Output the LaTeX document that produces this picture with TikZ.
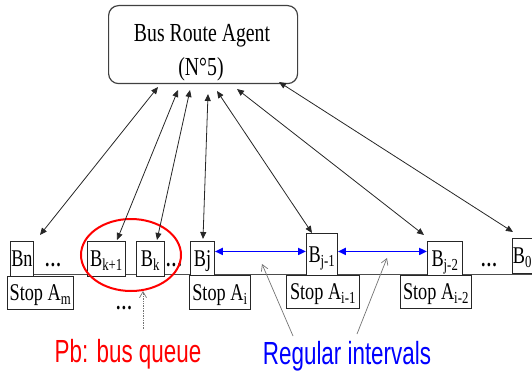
\documentclass[tikz,border=0pt]{standalone}
\usepackage{fontspec}
\newfontfamily\serifx[FakeStretch=0.76]{Liberation Serif}
\newfontfamily\sansx[FakeStretch=0.70]{Liberation Sans}
\usetikzlibrary{arrows.meta,calc}
\begin{document}
\begin{tikzpicture}[x=1pt,y=-1pt,
  bbox/.style={draw=black!85, fill=white, line width=0.9pt, inner sep=0pt,
    text height=16pt, text depth=0pt, anchor=north west,
    font=\serifx\fontsize{24}{28}\selectfont},
  sertext/.style={inner sep=0pt, anchor=base, font=\serifx\fontsize{26}{30}\selectfont},
  dotstext/.style={inner sep=0pt, anchor=base, font=\serifx\bfseries\fontsize{22}{26}\selectfont},
  link/.style={draw=black!85, line width=0.8pt, {Triangle[length=7pt,width=6pt]}-{Triangle[length=7pt,width=6pt]}},
  blink/.style={draw=blue, line width=1.8pt, {Triangle[length=8pt,width=7pt]}-{Triangle[length=8pt,width=7pt]}},
  glink/.style={draw=black!55, line width=0.7pt, -{Straight Barb[length=6pt,width=7pt]}},
  bigtext/.style={inner sep=0pt, anchor=base, font=\sansx\fontsize{32}{36}\selectfont}
]
\useasboundingbox (0,0) rectangle (532,374);

% road line
\coordinate (l0) at (10,274);
\coordinate (l1) at (532,274);
\draw[black!70, line width=1pt] (l0) -- (l1);

% agent
\node[draw=black!75, line width=1.2pt, rounded corners=10pt, minimum width=189pt,
  minimum height=78pt, anchor=north west, inner sep=0pt] (agent) at (108,5) {};
\node[sertext] (t1) at (202,42) {Bus Route Agent};
\node[sertext] (t2) at (201,76) {(N°5)};

% buses
\node[bbox, minimum width=23pt, minimum height=35pt] (bn) at (10,241) {Bn};
\node[bbox, minimum width=38pt, minimum height=35pt] (bk1) at (87,241) {B\textsubscript{k+1}};
\node[bbox, minimum width=28pt, minimum height=35pt] (bk) at (136,241) {B\textsubscript{k}};
\node[bbox, minimum width=24pt, minimum height=35pt] (bj) at (190,241) {Bj};
\node[bbox, minimum width=31pt, minimum height=42pt] (bj1) at (306,233) {B\textsubscript{j-1}};
\node[bbox, minimum width=35pt, minimum height=34pt] (bj2) at (427,241) {B\textsubscript{j-2}};
\node[bbox, minimum width=20pt, minimum height=35pt] (b0) at (512,238) {B\textsubscript{0}};

% stops
\node[bbox, minimum width=66pt, minimum height=33pt] (sam) at (7,276) {Stop A\textsubscript{m}};
\node[bbox, minimum width=61pt, minimum height=34pt] (sai) at (189,275) {Stop A\textsubscript{i}};
\node[bbox, minimum width=73pt, minimum height=33pt] (sai1) at (286,275) {Stop A\textsubscript{i-1}};
\node[bbox, minimum width=71pt, minimum height=33pt] (sai2) at (400,275) {Stop A\textsubscript{i-2}};

% dots
\node[dotstext] (d1) at (53,266) {\ldots};
\node[dotstext] (d2) at (174,266) {\ldots};
\node[dotstext] (d3) at (489,266) {\ldots};
\node[dotstext] (d4) at (124,309) {\ldots};

% queue ellipse
\draw[red, line width=2pt] (131,255) ellipse [x radius=50pt, y radius=36pt];

% agent links
\coordinate (a1) at (158,87);  \coordinate (e1) at (40,235);
\coordinate (a2) at (178,90);  \coordinate (e2) at (117,240);
\coordinate (a3) at (190,90);  \coordinate (e3) at (157,240);
\coordinate (a4) at (208,94);  \coordinate (e4) at (203,239);
\coordinate (a5) at (217,91);  \coordinate (e5) at (312,233);
\coordinate (a6) at (237,89);  \coordinate (e6) at (424,235);
\coordinate (a7) at (279,82);  \coordinate (e7) at (513,232);
\foreach \i in {1,...,7} { \draw[link] (a\i) -- (e\i); }

% regular intervals arrows
\draw[blink] ([yshift=7.5pt]bj.east) -- ([yshift=3pt]bj1.west);
\draw[blink] ([yshift=3pt]bj1.east) -- ([yshift=7pt]bj2.west);

% labels
\node[bigtext, red] (pb) at (128,362) {Pb: bus queue};
\node[bigtext, blue] (ri) at (347,364) {Regular intervals};

\coordinate (q0) at (143,329); \coordinate (q1) at (143,291);
\draw[glink, densely dotted] (q0) -- (q1);
\coordinate (r0) at (293,336); \coordinate (r1) at (262,264);
\coordinate (s0) at (357,334); \coordinate (s1) at (387,258);
\draw[glink] (r0) -- (r1);
\draw[glink] (s0) -- (s1);
\end{tikzpicture}
\end{document}
